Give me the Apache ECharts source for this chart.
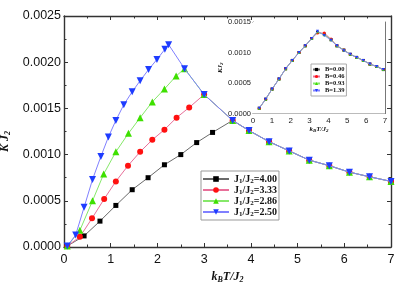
<!DOCTYPE html>
<html><head><meta charset="utf-8">
<script src="https://cdn.jsdelivr.net/npm/echarts@6/dist/echarts.min.js"></script>
<style>html,body{margin:0;padding:0;background:#fff}#c{width:416px;height:299px}</style>
</head><body><div id="c"></div>
<script>
// ---- main chart data ----
const ratioLabels = ['4.00', '3.33', '2.86', '2.50'];
const xTicks = [0, 1, 2, 3, 4, 5, 6, 7];

const blackX = [0.07, 0.43, 0.77, 1.11, 1.46, 1.80, 2.15, 2.50, 2.84, 3.18, 3.61];
const blackY = [0.00001, 0.00012, 0.00028, 0.00045, 0.00062, 0.00075, 0.00089, 0.00100, 0.00113, 0.00124, 0.00137];

const redX = [0.07, 0.34, 0.60, 0.86, 1.11, 1.37, 1.63, 1.89, 2.15, 2.41, 2.68, 3.00, 3.61];
const redY = [0.00001, 0.00011, 0.00031, 0.00052, 0.00071, 0.00088, 0.00103, 0.00116, 0.00127, 0.00140, 0.00151, 0.00165, 0.00137];

const greenX = [0.07, 0.34, 0.61, 0.85, 1.11, 1.38, 1.63, 1.89, 2.15, 2.40, 2.58, 3.00, 3.61];
const greenY = [0.00001, 0.00018, 0.00050, 0.00079, 0.00103, 0.00123, 0.00140, 0.00157, 0.00171, 0.00185, 0.00193, 0.00165, 0.00137];

const blueX = [0.07, 0.25, 0.43, 0.61, 0.79, 0.95, 1.11, 1.28, 1.46, 1.63, 1.81, 1.99, 2.16, 2.24, 2.58, 3.00, 3.61];
const blueY = [0.00001, 0.00013, 0.00043, 0.00073, 0.00098, 0.00119, 0.00137, 0.00154, 0.00168, 0.00180, 0.00192, 0.00203, 0.00214, 0.00219, 0.00193, 0.00165, 0.00137];

// common high-temperature branch
const tailX = [3.96, 4.39, 4.82, 5.25, 5.68, 6.11, 6.54, 7.00];
const tailY = [0.00126, 0.00114, 0.00104, 0.00094, 0.00088, 0.00081, 0.00076, 0.00071];

// ---- inset data ----
const bLabels = ['0.00', '0.46', '0.93', '1.39'];
const insetX = [0.33, 0.67, 1.01, 1.38, 1.73, 2.08, 2.44, 2.77, 3.11, 3.42, 3.78, 4.14, 4.45, 4.82, 5.16, 5.50, 5.85, 6.20, 6.56, 6.91];
const insetB0 = [0.000086, 0.000235, 0.00040, 0.000567, 0.000733, 0.00087, 0.00100, 0.00111, 0.00123, 0.00133, 0.00130, 0.00121, 0.00111, 0.00104, 0.00097, 0.00092, 0.00087, 0.00081, 0.00077, 0.00072];
const insetB1 = [0.000086, 0.000235, 0.00040, 0.000567, 0.000733, 0.00087, 0.00100, 0.00111, 0.00123, 0.00132, 0.00132, 0.00122, 0.00111, 0.00104, 0.00097, 0.00092, 0.00087, 0.00081, 0.00077, 0.00072];
const insetB2 = [0.000086, 0.000235, 0.00040, 0.000567, 0.000733, 0.00087, 0.00100, 0.00111, 0.00123, 0.00134, 0.00129, 0.00121, 0.00111, 0.00104, 0.00097, 0.00092, 0.00087, 0.00081, 0.00077, 0.00072];
const insetB3 = [0.000086, 0.000235, 0.00040, 0.000567, 0.000733, 0.00087, 0.00100, 0.00111, 0.00123, 0.00135, 0.00128, 0.00120, 0.00111, 0.00103, 0.00097, 0.00092, 0.00087, 0.00081, 0.00077, 0.00072];

const DOWN = 'path://M0,0L10,0L5,9Z';
const styles = [
  {line: '#6a6a6a', mark: '#000000', sym: 'rect', size: 5},
  {line: '#e8709a', mark: '#ff1010', sym: 'circle', size: 6},
  {line: '#86e86a', mark: '#3ee000', sym: 'triangle', size: 7},
  {line: '#8080ff', mark: '#1e3cff', sym: DOWN, size: 7}
];

function pairs(xs, ys) { return xs.map((v, i) => [v, ys[i]]); }

const mainSets = [
  pairs(blackX.concat(tailX), blackY.concat(tailY)),
  pairs(redX.concat(tailX), redY.concat(tailY)),
  pairs(greenX.concat(tailX), greenY.concat(tailY)),
  pairs(blueX.concat(tailX), blueY.concat(tailY))
];
const insetSets = [insetB0, insetB1, insetB2, insetB3].map(ys => pairs(insetX, ys));

const serif = 'Liberation Serif, Times New Roman, serif';
const sans = 'Liberation Sans, Arial, sans-serif';

function subRich(size, lh) {
  return {
    i: {fontSize: size, fontWeight: 'bold', fontStyle: 'italic', fontFamily: serif, color: '#111', lineHeight: lh},
    s: {fontSize: Math.round(size * 0.7), fontWeight: 'bold', fontStyle: 'italic', fontFamily: serif, color: '#111', lineHeight: Math.round(lh * 0.5), verticalAlign: 'bottom'},
    a: {fontSize: size, fontWeight: 'bold', fontFamily: serif, color: '#111', lineHeight: lh},
    b: {fontSize: Math.round(size * 0.7), fontWeight: 'bold', fontFamily: serif, color: '#111', lineHeight: Math.round(lh * 0.5), verticalAlign: 'bottom'}
  };
}

const mainAxisLine = {lineStyle: {color: '#333', width: 1.4}};
const mainTick = {inside: true, length: 4, lineStyle: {color: '#333', width: 1}};
const mainMinor = {show: true, splitNumber: 2, length: 2.5, lineStyle: {color: '#333', width: 1}};
const insAxisLine = {lineStyle: {color: '#777', width: 1}};
const insTick = {inside: true, length: 2.5, lineStyle: {color: '#777', width: 1}};
const insMinor = {show: false};

const option = {
  animation: false,
  backgroundColor: '#fff',
  grid: [
    {left: 64, top: 16, width: 327, height: 231, containLabel: false, outerBoundsMode: 'none'},
    {left: 253, top: 22, width: 132, height: 91.5, show: true, backgroundColor: '#fff', borderWidth: 0, z: 5, containLabel: false, outerBoundsMode: 'none'}
  ],
  xAxis: [
    {type: 'value', gridIndex: 0, min: 0, max: 7, interval: 1, position: 'bottom',
     axisLine: Object.assign({onZero: false}, mainAxisLine), axisTick: mainTick, minorTick: mainMinor,
     splitLine: {show: false}, minorSplitLine: {show: false},
     axisLabel: {fontSize: 12.5, color: '#111', margin: 6, fontFamily: sans},
     name: '{i|k}{s|B}{i|T/J}{s|2}', nameLocation: 'middle', nameGap: 15,
     nameTextStyle: {rich: subRich(12, 14)}},
    {type: 'value', gridIndex: 0, min: 0, max: 7, interval: 1, position: 'top',
     axisLine: Object.assign({onZero: false}, mainAxisLine), axisTick: mainTick, minorTick: mainMinor,
     splitLine: {show: false}, axisLabel: {show: false}},
    {type: 'value', gridIndex: 1, min: 0, max: 7, interval: 1, position: 'bottom',
     axisLine: Object.assign({onZero: false}, insAxisLine), axisTick: insTick, minorTick: insMinor,
     splitLine: {show: false},
     axisLabel: {fontSize: 8, color: '#222', margin: 3, fontFamily: sans},
     name: '{i|k}{s|B}{i|T/J}{s|2}', nameLocation: 'middle', nameGap: 12,
     nameTextStyle: {rich: subRich(7, 8)}},
    {type: 'value', gridIndex: 1, min: 0, max: 7, interval: 1, position: 'top',
     axisLine: Object.assign({onZero: false}, insAxisLine), axisTick: insTick, minorTick: insMinor,
     splitLine: {show: false}, axisLabel: {show: false}}
  ],
  yAxis: [
    {type: 'value', gridIndex: 0, min: 0, max: 0.0025, interval: 0.0005, position: 'left',
     axisLine: Object.assign({onZero: false, show: true}, mainAxisLine), axisTick: Object.assign({show: true}, mainTick), minorTick: mainMinor,
     splitLine: {show: false},
     axisLabel: {fontSize: 12.5, color: '#111', margin: 3, fontFamily: sans, formatter: v => v.toFixed(4)},
     name: '{i|K J}{s|2}', nameLocation: 'middle', nameRotate: 90, nameGap: 44,
     nameTextStyle: {rich: subRich(12, 14), padding: [0, 20, 0, 0]}},
    {type: 'value', gridIndex: 0, min: 0, max: 0.0025, interval: 0.0005, position: 'right',
     axisLine: Object.assign({onZero: false, show: true}, mainAxisLine), axisTick: Object.assign({show: true}, mainTick), minorTick: mainMinor,
     splitLine: {show: false}, axisLabel: {show: false}},
    {type: 'value', gridIndex: 1, min: 0, max: 0.0015, interval: 0.0005, position: 'left',
     axisLine: Object.assign({onZero: false, show: true}, insAxisLine), axisTick: Object.assign({show: true}, insTick), minorTick: insMinor,
     splitLine: {show: false},
     axisLabel: {fontSize: 7.5, color: '#222', margin: 2, fontFamily: sans, formatter: v => v.toFixed(4)},
     name: '{i|KJ}{s|2}', nameLocation: 'middle', nameRotate: 90, nameGap: 27,
     nameTextStyle: {rich: subRich(7, 8)}},
    {type: 'value', gridIndex: 1, min: 0, max: 0.0015, interval: 0.0005, position: 'right',
     axisLine: Object.assign({onZero: false, show: true}, insAxisLine), axisTick: Object.assign({show: true}, insTick), minorTick: insMinor,
     splitLine: {show: false}, axisLabel: {show: false}}
  ],
  legend: [
    {data: ratioLabels, left: 201, top: 171, orient: 'vertical',
     padding: [3, 2, 2, 1], itemGap: 0, itemWidth: 26, itemHeight: 7,
     borderColor: '#999', borderWidth: 1, backgroundColor: '#fff',
     selectedMode: false,
     formatter: n => '{a|J}{b|1}{a|/J}{b|2}{a|=' + n + '}',
     textStyle: {rich: subRich(10, 12)}},
    {data: bLabels, left: 311, top: 64, orient: 'vertical',
     padding: [2, 2, 2, 1], itemGap: 0, itemWidth: 7, itemHeight: 4,
     borderColor: '#aaa', borderWidth: 1, backgroundColor: '#fff',
     selectedMode: false, z: 10,
     formatter: n => '{a|B=' + n + '}',
     textStyle: {rich: {a: {fontSize: 6.5, fontWeight: 'bold', fontFamily: serif, color: '#111', lineHeight: 9.5}}}}
  ],
  series: []
};

mainSets.forEach((d, k) => {
  const st = styles[k];
  option.series.push({
    type: 'line', name: ratioLabels[k], xAxisIndex: 0, yAxisIndex: 0, data: d,
    symbol: st.sym, symbolSize: st.size, showSymbol: true, clip: false,
    lineStyle: {color: st.line, width: 1}, itemStyle: {color: st.mark, borderWidth: 0},
    z: 2 + k
  });
});
insetSets.forEach((d, k) => {
  const st = styles[k];
  option.series.push({
    type: 'line', name: bLabels[k], xAxisIndex: 2, yAxisIndex: 2, data: d,
    symbol: st.sym, symbolSize: 3, showSymbol: true, clip: false,
    lineStyle: {color: st.line, width: 0.8}, itemStyle: {color: st.mark, borderWidth: 0},
    z: 6 + k
  });
});

const chart = echarts.init(document.getElementById('c'), null, {renderer: 'canvas'});
chart.setOption(option);
</script>
</body></html>
